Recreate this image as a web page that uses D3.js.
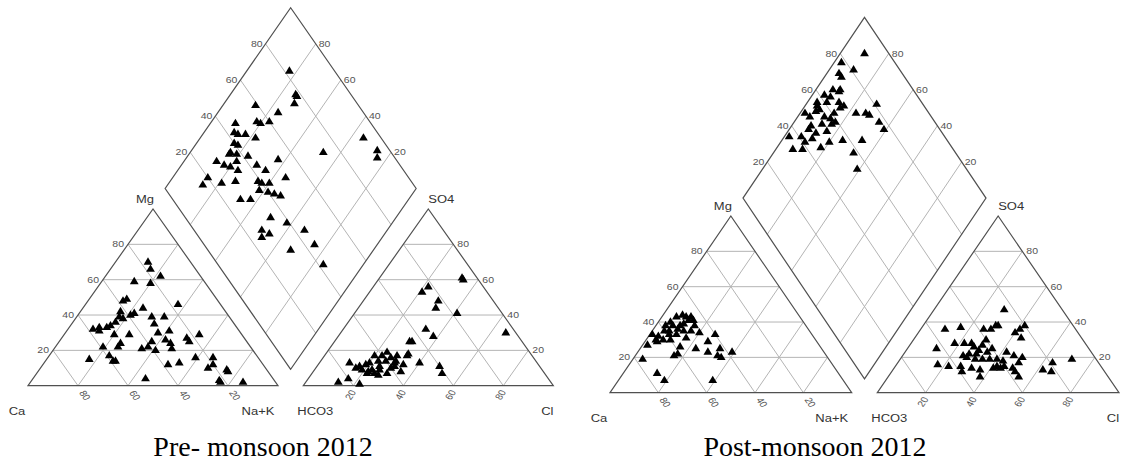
<!DOCTYPE html>
<html><head><meta charset="utf-8">
<script src="https://cdn.jsdelivr.net/npm/d3@7"></script>
<style>body{margin:0;background:#fff}svg{display:block}</style>
</head><body>
<svg id="c" width="1135" height="468"></svg>
<script>
// ---------- data (percent of meq/L) ----------
const tickValues = [20, 40, 60, 80];
const titles = ["Pre- monsoon 2012", "Post-monsoon 2012"];
const cationLabels = ["Ca", "Na+K", "Mg"];
const anionLabels = ["HCO3", "Cl", "SO4"];

// cation triangle: [Mg, Na+K]
const preCation = [[70,13],[66,16],[62,22],[59,13],[58,20],[49,15],[48,14],[46,37],[44,24],[42,16],[41,22],[40,21],[39,17],[38,19],[36,17],[39,30],[39,35],[35,33],[34,16],[33,15],[33,12],[32,10],[31,13],[29,20],[29,26],[30,37],[31,41],[29,54],[27,50],[25,52],[26,42],[24,45],[25,37],[24,25],[22,25],[22,19],[22,37],[21,35],[20,41],[21,47],[17,24],[14,27],[14,28],[15,17],[16,59],[16,66],[12,68],[10,67],[12,50],[13,54],[9,75],[8,76],[3,75],[2,76],[2,85],[4,45]];
// anion triangle: [SO4, Cl]
const preAnion = [[60,34],[61,33],[56,22],[53,21],[48,30],[44,31],[41,41],[30,66],[32,33],[28,38],[25,31],[25,30],[17,33],[17,29],[13,40],[11,49],[7,52],[19,24],[17,23],[17,20],[16,27],[14,26],[13,30],[12,34],[8,35],[14,23],[13,20],[12,19],[11,17],[13,12],[10,16],[9,19],[8,22],[7,25],[9,26],[7,30],[6,27],[7,22],[4,16],[2,13],[1,22],[11,31],[10,30],[14,30],[18,33],[11,25],[9,23]];
// diamond: [Ca+Mg, SO4+Cl]
const preDiamond = [[83,82],[74,78],[73,78],[72,75],[87,59],[76,66],[82,55],[80,56],[77,60],[90,46],[88,43],[86,44],[83,47],[78,50],[85,40],[83,41],[35,93],[26,95],[24,93],[47,73],[84,36],[81,38],[84,35],[76,42],[63,53],[87,28],[83,30],[80,32],[79,36],[70,43],[76,34],[65,45],[55,51],[86,20],[86,16],[79,24],[74,30],[65,39],[63,40],[60,43],[62,37],[58,40],[55,42],[52,44],[67,27],[63,31],[50,34],[42,39],[33,44],[50,27],[46,29],[48,25],[25,44],[33,33],[16,42]];

const postCation = [[44,8],[43,6],[43,10],[43,12],[41,14],[41,12],[40,5],[38,4],[38,7],[38,10],[38,16],[35,5],[35,7],[36,10],[35,13],[35,16],[34,20],[33,1],[32,4],[33,8],[33,11],[33,27],[30,4],[30,7],[30,10],[31,16],[27,2],[29,5],[26,16],[29,26],[25,23],[25,33],[23,29],[21,34],[20,36],[23,39],[22,17],[21,16],[19,4],[11,14],[7,19],[7,39],[39,11]];
const postAnion = [[47,29],[36,10],[37,16],[36,26],[36,29],[38,30],[38,31],[36,41],[38,42],[34,40],[31,44],[30,30],[25,12],[28,18],[28,22],[28,25],[26,27],[27,30],[25,35],[24,30],[23,34],[23,42],[21,46],[20,50],[21,25],[20,27],[19,31],[19,34],[19,37],[19,40],[18,43],[17,50],[16,17],[15,22],[15,27],[12,29],[14,32],[13,36],[9,38],[14,41],[15,42],[14,44],[15,45],[12,51],[14,49],[9,54],[13,62],[17,64],[12,66],[19,71],[22,27],[22,30]];
const postDiamond = [[90,90],[97,78],[90,81],[95,74],[93,74],[93,67],[90,70],[90,69],[95,62],[92,64],[96,57],[92,61],[87,66],[71,81],[95,56],[84,67],[85,65],[98,49],[94,54],[93,56],[86,61],[77,70],[73,74],[71,75],[95,50],[89,56],[86,58],[83,59],[65,77],[92,48],[88,53],[84,57],[61,77],[92,46],[88,48],[84,53],[98,36],[93,41],[90,41],[88,45],[80,51],[75,57],[67,65],[82,46],[93,34],[89,38],[67,58],[61,55]];

// ---------- layout ----------
const panels = [
  {x0: 28, W: 250, gap: 25.3, base: 385.7, H: 176.7, DW: 125.5, dTop: 7.7, dBottom: 369.3, titleX: 263},
  {x0: 610, W: 241.7, gap: 25.6, base: 392.7, H: 176.7, DW: 121.5, dTop: 17.3, dBottom: 378.9, titleX: 815}
];
const datasets = [[preCation, preAnion, preDiamond], [postCation, postAnion, postDiamond]];
const SQ = 0.82; // vertical squash of the original figure

const svg = d3.select("#c");
const line = d3.line();
const borderCol = "#505050", gridCol = "#b4b4b4", tickCol = "#555", labCol = "#333";

function marker(g, pts) {
  const w = 4.4, hu = 4.7, hd = 2.7;
  g.selectAll(null).data(pts).join("path")
    .attr("d", p => `M${p[0]},${p[1]-hu}L${p[0]+w},${p[1]+hd}L${p[0]-w},${p[1]+hd}Z`)
    .attr("fill", "#000");
}

function txt(g, x, y, s, opts) {
  const o = Object.assign({size: 10.5, anchor: "middle", rot: 0, col: tickCol, family: "Liberation Sans, Arial, sans-serif"}, opts || {});
  g.append("text")
    .attr("transform", `translate(${x},${y}) scale(1,${SQ}) rotate(${o.rot})`)
    .attr("text-anchor", o.anchor)
    .attr("dominant-baseline", "central")
    .attr("font-family", o.family)
    .attr("font-size", o.size)
    .attr("fill", o.col)
    .text(s);
}

panels.forEach((P, i) => {
  const [cation, anion, diamond] = datasets[i];
  const g = svg.append("g");
  const yT = d3.scaleLinear().domain([0, 100]).range([P.base, P.base - P.H]);
  const xC = d3.scaleLinear().domain([0, 100]).range([P.x0, P.x0 + P.W]);
  const ax0 = P.x0 + P.W + P.gap;
  const xA = d3.scaleLinear().domain([0, 100]).range([ax0, ax0 + P.W]);
  const cx = P.x0 + P.W + P.gap / 2;
  const xD = d3.scaleLinear().domain([-100, 100]).range([cx - P.DW, cx + P.DW]);
  const yD = d3.scaleLinear().domain([0, 200]).range([P.dBottom, P.dTop]);

  const cat = (mg, nk) => [xC(nk + mg / 2), yT(mg)];
  const an = (so4, cl) => [xA(cl + so4 / 2), yT(so4)];
  const dia = (a, b) => [xD(b - a), yD(a + b)];

  const gridG = g.append("g").attr("fill", "none").attr("stroke", gridCol).attr("stroke-width", 1);
  tickValues.forEach(v => {
    gridG.append("path").attr("d", line([cat(v, 0), cat(v, 100 - v)]));
    gridG.append("path").attr("d", line([cat(0, v), cat(100 - v, v)]));
    gridG.append("path").attr("d", line([cat(0, 100 - v), cat(100 - v, 0)]));
    gridG.append("path").attr("d", line([an(v, 0), an(v, 100 - v)]));
    gridG.append("path").attr("d", line([an(0, v), an(100 - v, v)]));
    gridG.append("path").attr("d", line([an(0, 100 - v), an(100 - v, 0)]));
    gridG.append("path").attr("d", line([dia(v, 0), dia(v, 100)]));
    gridG.append("path").attr("d", line([dia(0, v), dia(100, v)]));
  });

  const bG = g.append("g").attr("fill", "none").attr("stroke", borderCol).attr("stroke-width", 1.2);
  bG.append("path").attr("d", line([cat(0, 0), cat(0, 100), cat(100, 0)]) + "Z");
  bG.append("path").attr("d", line([an(0, 0), an(0, 100), an(100, 0)]) + "Z");
  bG.append("path").attr("d", line([dia(0, 0), dia(100, 0), dia(100, 100), dia(0, 100)]) + "Z");

  tickValues.forEach(v => {
    const pc = cat(0, 100 - v);
    txt(g, pc[0] + 7, pc[1] + 9.5, String(v), {rot: 60});
    const pm = cat(v, 0);
    txt(g, pm[0] - 4, pm[1], String(v), {anchor: "end"});
    const pa = an(0, v);
    txt(g, pa[0] - 3, pa[1] + 9, String(v), {rot: -60});
    const ps = an(v, 100 - v);
    txt(g, ps[0] + 4, ps[1], String(v), {anchor: "start"});
    const pl = dia(100, v);
    txt(g, pl[0] - 3, pl[1], String(v), {anchor: "end"});
    const pr = dia(v, 100);
    txt(g, pr[0] + 3, pr[1], String(v), {anchor: "start"});
  });

  const L = {size: 13, col: labCol};
  const caP = cat(0, 0), nkP = cat(0, 100), mgP = cat(100, 0);
  const hcP = an(0, 0), clP = an(0, 100), soP = an(100, 0);
  txt(g, caP[0] - 11, caP[1] + 25.5, cationLabels[0], L);
  txt(g, nkP[0] - 20, nkP[1] + 25.5, cationLabels[1], L);
  txt(g, mgP[0] - 8, mgP[1] - 10, cationLabels[2], L);
  txt(g, hcP[0] + 12, hcP[1] + 25.5, anionLabels[0], L);
  txt(g, clP[0] - 6, clP[1] + 25.5, anionLabels[1], L);
  txt(g, soP[0] + 13, soP[1] - 10, anionLabels[2], L);

  marker(g.append("g"), cation.map(d => cat(d[0], d[1])));
  marker(g.append("g"), anion.map(d => an(d[0], d[1])));
  marker(g.append("g"), diamond.map(d => dia(d[0], d[1])));

  g.append("text").attr("x", P.titleX).attr("y", 456)
    .attr("text-anchor", "middle")
    .attr("font-family", "Liberation Serif, Times New Roman, serif")
    .attr("font-size", 28).attr("fill", "#000")
    .text(titles[i]);
});
</script>
</body></html>
